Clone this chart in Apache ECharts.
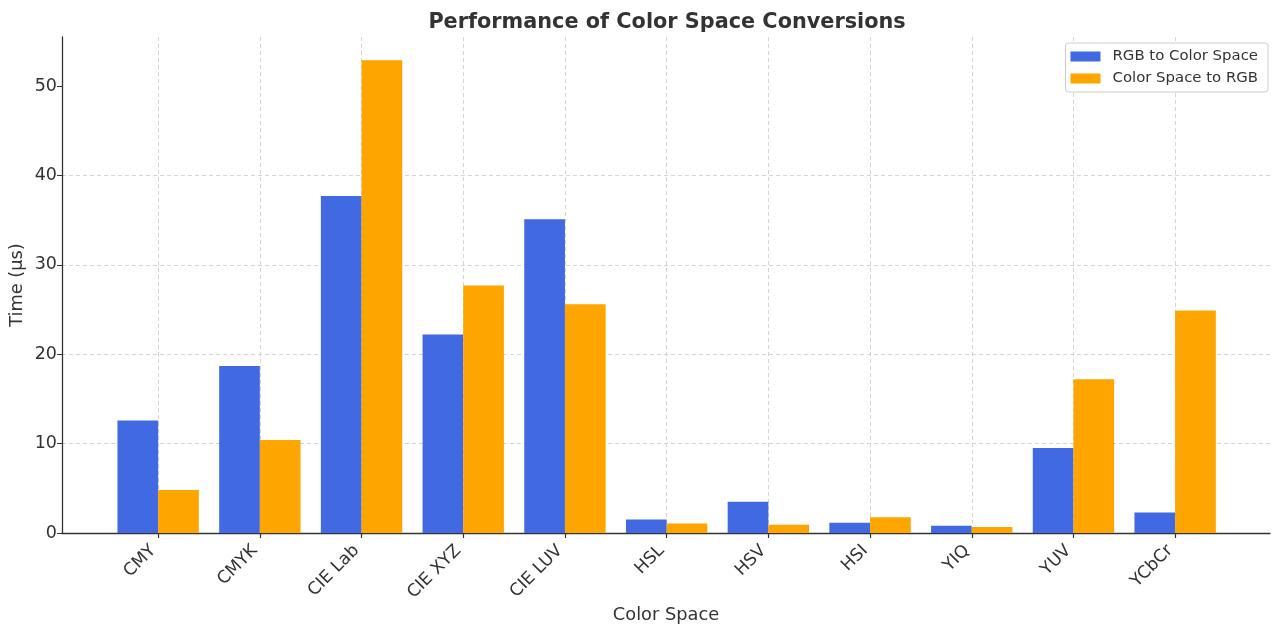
<!DOCTYPE html>
<html><head><meta charset="utf-8">
<script src="https://cdn.jsdelivr.net/npm/echarts@6/dist/echarts.min.js"></script>
<style>html,body{margin:0;padding:0;background:#fff}#c{width:1280px;height:635px}</style>
</head><body><div id="c"></div>
<script>
const categories = ['CMY','CMYK','CIE Lab','CIE XYZ','CIE LUV','HSL','HSV','HSI','YIQ','YUV','YCbCr'];
const rgbToSpace = [12.6, 18.7, 37.7, 22.2, 35.1, 1.5, 3.5, 1.15, 0.8, 9.5, 2.3];
const spaceToRgb = [4.8, 10.4, 52.9, 27.7, 25.6, 1.05, 0.92, 1.75, 0.68, 17.2, 24.9];
const yTicks = [0, 10, 20, 30, 40, 50];
const seriesNames = ['RGB to Color Space', 'Color Space to RGB'];

const FONT = 'DejaVu Sans';
const chart = echarts.init(document.getElementById('c'), null, {renderer: 'canvas'});
const TOP = 37, BOTTOM = 102;
chart.setOption({
  animation: false,
  backgroundColor: '#fff',
  textStyle: {fontFamily: FONT},
  title: {
    text: 'Performance of Color Space Conversions',
    left: 662, top: 7, textAlign: 'center',
    textStyle: {fontFamily: FONT, fontSize: 20.8, fontWeight: 'bold', color: '#333'}
  },
  legend: {
    orient: 'vertical', right: 12, top: 43,
    itemWidth: 30, itemHeight: 10, itemGap: 7, icon: 'rect',
    padding: [6, 10, 6, 5],
    borderColor: '#ccc', borderWidth: 1, borderRadius: 3, backgroundColor: '#fff',
    textStyle: {fontFamily: FONT, fontSize: 14.9, color: '#333', padding: [0, 0, 0, 7]},
    data: seriesNames
  },
  grid: [
    {left: 62, right: 10, top: TOP, bottom: BOTTOM, outerBoundsMode: 'none', containLabel: false},
    {left: 107.3, right: 54, top: TOP, bottom: BOTTOM, outerBoundsMode: 'none', containLabel: false}
  ],
  xAxis: [
    {
      gridIndex: 0, type: 'value', min: 0, max: 1,
      axisLine: {show: true, lineStyle: {color: '#333', width: 1.3}},
      axisTick: {show: false}, axisLabel: {show: false}, splitLine: {show: false},
      name: 'Color Space', nameLocation: 'middle', nameGap: 73, nameMoveOverlap: false,
      nameTextStyle: {fontFamily: FONT, fontSize: 17.8, color: '#333'}
    },
    {
      gridIndex: 1, type: 'category', data: categories,
      axisLine: {show: false},
      axisTick: {show: true, alignWithLabel: true, length: 5, lineStyle: {color: '#333', width: 1.2}},
      axisLabel: {rotate: 45, fontFamily: FONT, fontSize: 17.2, color: '#333', margin: 10, interval: 0, padding: [0, 7, 0, 0]},
      splitLine: {show: true, alignWithLabel: true, lineStyle: {color: '#c8c8c8', type: [4, 3], width: 0.8}}
    }
  ],
  yAxis: [
    {
      gridIndex: 0, type: 'value', min: 0, max: 55.5, interval: 10,
      axisLine: {show: true, lineStyle: {color: '#333', width: 1.3}},
      axisTick: {show: true, length: 5, customValues: yTicks, lineStyle: {color: '#333'}},
      axisLabel: {fontFamily: FONT, fontSize: 17.5, color: '#333', margin: 5, customValues: yTicks},
      splitLine: {show: true, showMaxLine: false, showMinLine: false, lineStyle: {color: '#c8c8c8', type: [4, 3], width: 0.8}},
      name: 'Time (µs)', nameLocation: 'middle', nameGap: 36, nameMoveOverlap: false,
      nameTextStyle: {fontFamily: FONT, fontSize: 17.8, color: '#333'}
    },
    {
      gridIndex: 1, type: 'value', min: 0, max: 55.5,
      axisLine: {show: false}, axisTick: {show: false}, axisLabel: {show: false}, splitLine: {show: false}
    }
  ],
  series: [
    {name: seriesNames[0], type: 'bar', xAxisIndex: 1, yAxisIndex: 1, data: rgbToSpace,
     barWidth: '40%', barGap: '0%', itemStyle: {color: '#4169E1'}},
    {name: seriesNames[1], type: 'bar', xAxisIndex: 1, yAxisIndex: 1, data: spaceToRgb,
     barWidth: '40%', barGap: '0%', itemStyle: {color: '#FFA500'}}
  ]
});
</script></body></html>
